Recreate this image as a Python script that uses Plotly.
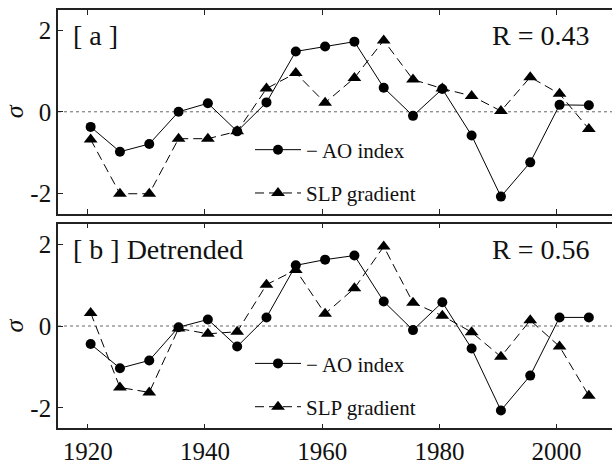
import plotly.graph_objects as go

# ---- data ----
year_centers = [1920.5, 1925.5, 1930.5, 1935.5, 1940.5, 1945.5, 1950.5, 1955.5, 1960.5,
                1965.5, 1970.5, 1975.5, 1980.5, 1985.5, 1990.5, 1995.5, 2000.5, 2005.5]

ao_a = [-0.37, -0.98, -0.79, 0.00, 0.21, -0.48, 0.23, 1.48, 1.60,
        1.72, 0.59, -0.10, 0.56, -0.58, -2.08, -1.24, 0.17, 0.16]
slp_a = [-0.68, -2.01, -2.01, -0.66, -0.66, -0.48, 0.57, 0.95, 0.22,
         0.83, 1.75, 0.79, 0.57, 0.39, 0.02, 0.85, 0.44, -0.42]

ao_b = [-0.44, -1.03, -0.84, -0.03, 0.16, -0.50, 0.21, 1.48, 1.62,
        1.72, 0.60, -0.10, 0.58, -0.55, -2.06, -1.21, 0.21, 0.21]
slp_b = [0.32, -1.50, -1.62, -0.06, -0.19, -0.14, 1.01, 1.37, 0.30,
         0.92, 1.94, 0.57, 0.25, -0.15, -0.75, 0.14, -0.50, -1.70]

x_ticks = [1920, 1940, 1960, 1980, 2000]
y_ticks = [-2, 0, 2]
y_tick_text = ["-2", "0", "2"]

panel_labels = ["[ a ]", "[ b ] Detrended"]
r_labels = ["R = 0.43", "R = 0.56"]
ao_name = "\u2212 AO index"
slp_name = "SLP gradient"

FONT = "Liberation Serif"

fig = go.Figure()

panels = [(ao_a, slp_a, "x", "y", "legend"), (ao_b, slp_b, "x2", "y2", "legend2")]
for i, (ao, slp, xa, ya, lg) in enumerate(panels):
    fig.add_trace(go.Scatter(
        x=year_centers, y=ao, xaxis=xa, yaxis=ya, mode="lines+markers",
        line=dict(color="black", width=1),
        marker=dict(symbol="circle", size=10, color="black"),
        name=ao_name, legend=lg, legendgroup=f"ao{i}"))
    fig.add_trace(go.Scatter(
        x=year_centers, y=slp, xaxis=xa, yaxis=ya, mode="lines+markers",
        line=dict(color="black", width=1, dash="9px,5px"),
        marker=dict(symbol="triangle-up", size=12, color="black"),
        name=slp_name, legend=lg, legendgroup=f"slp{i}"))

xrange = [1914.93, 2009.45]
yrange = [-2.5, 2.5]
dom_a = [1 - 217 / 465, 1 - 10 / 465]
dom_b = [1 - 435 / 465, 1 - 227 / 465]
xdom = [58 / 612, 1.0]

axis_common = dict(showgrid=False, zeroline=False, ticks="inside", ticklen=5,
                   tickwidth=1, tickcolor="#222", showline=True, linecolor="#222",
                   linewidth=1.6)

tick_font = dict(family=FONT, size=25, color="#111")
title_font = dict(family=FONT, size=26, color="#111")
legend_font = dict(family=FONT, size=21, color="#111")

fig.update_layout(
    width=612, height=465,
    margin=dict(l=0, r=0, t=0, b=0),
    paper_bgcolor="white", plot_bgcolor="white",
    showlegend=True,
    xaxis=dict(domain=xdom, range=xrange, anchor="y", tickvals=x_ticks,
               showticklabels=False, mirror="ticks", **axis_common),
    yaxis=dict(domain=dom_a, range=yrange, anchor="x", tickvals=y_ticks,
               ticktext=y_tick_text, tickfont=tick_font, mirror=False,
               ticklabelstandoff=0,
               title=dict(text="<i>σ</i>", font=title_font, standoff=6),
               **axis_common),
    xaxis2=dict(domain=xdom, range=xrange, anchor="y2", tickvals=x_ticks,
                tickfont=tick_font, mirror="ticks", **axis_common),
    yaxis2=dict(domain=dom_b, range=yrange, anchor="x2", tickvals=y_ticks,
                ticktext=y_tick_text, tickfont=tick_font, mirror=False,
                ticklabelstandoff=0,
                title=dict(text="<i>σ</i>", font=title_font, standoff=6),
                **axis_common),
    yaxis3=dict(overlaying="y", side="right", anchor="x", range=yrange,
                tickvals=y_ticks, showticklabels=False, showgrid=False, zeroline=False,
                ticks="inside", ticklen=5, tickwidth=1, tickcolor="#222", showline=False),
    yaxis4=dict(overlaying="y2", side="right", anchor="x2", range=yrange,
                tickvals=y_ticks, showticklabels=False, showgrid=False, zeroline=False,
                ticks="inside", ticklen=5, tickwidth=1, tickcolor="#222", showline=False),
    legend=dict(x=250 / 612, y=1 - 131.5 / 465, xanchor="left", yanchor="top",
                bgcolor="rgba(0,0,0,0)", itemwidth=46, tracegroupgap=13,
                font=legend_font),
    legend2=dict(x=250 / 612, y=1 - 348.5 / 465, xanchor="left", yanchor="top",
                 bgcolor="rgba(0,0,0,0)", itemwidth=46, tracegroupgap=13,
                 font=legend_font),
)

# dotted zero reference lines
for ya, xa in [("y", "x"), ("y2", "x2")]:
    fig.add_shape(type="line", xref=f"{xa} domain", yref=ya, x0=0, x1=1, y0=0, y1=0,
                  line=dict(color="#666", width=1, dash="dot"), layer="below")

# panel text
ann_font = dict(family=FONT, size=28, color="#111")
for (xa, ya), lab, rl in zip([("x", "y"), ("x2", "y2")], panel_labels, r_labels):
    fig.add_annotation(xref=f"{xa} domain", yref=f"{ya} domain", x=(71 - 58) / 554,
                       y=1 - 26 / 207, xanchor="left", yanchor="middle",
                       text=lab, showarrow=False, font=ann_font)
    fig.add_annotation(xref=f"{xa} domain", yref=f"{ya} domain", x=(591 - 58) / 554,
                       y=1 - 26 / 207, xanchor="right", yanchor="middle",
                       text=rl, showarrow=False, font=ann_font)

fig.write_html("out.html")
